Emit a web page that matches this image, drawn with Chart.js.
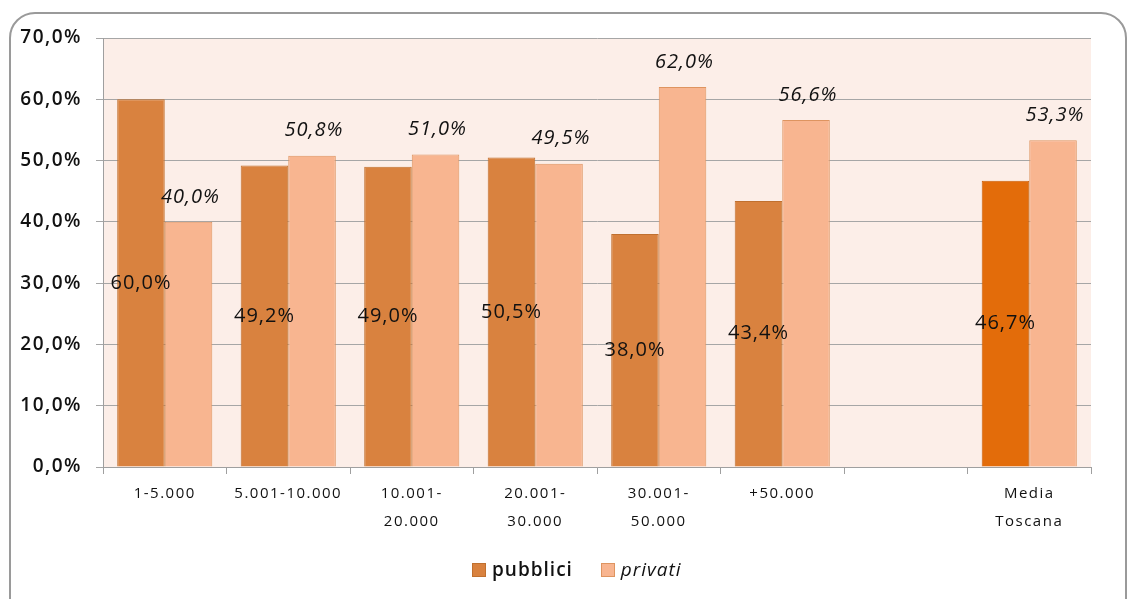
<!DOCTYPE html>
<html>
<head>
<meta charset="utf-8">
<script src="https://cdn.jsdelivr.net/npm/chart.js@4"></script>
<style>
  html, body { margin: 0; padding: 0; background: #fff; }
  #wrap { position: relative; width: 1132px; height: 599px; overflow: hidden; }
  #frame { position: absolute; left: 9px; top: 12px; width: 1118px; height: 640px;
           border: 2px solid #9a9a9a; border-radius: 26px; box-sizing: border-box; }
  canvas { position: absolute; left: 0; top: 0; }
  #legend { position: absolute; top: 556px; left: 472px; font-family: "Open Sans", sans-serif;
            font-size: 19px; letter-spacing: 1px; color: #111; white-space: nowrap; }
  #legend span.box { display: inline-block; width: 14px; height: 14px; vertical-align: -1px;
                     margin-right: 6px; box-sizing: border-box; }
  #legend .item { margin-right: 22px; }
</style>
</head>
<body>
<div id="wrap">
  <div id="frame"></div>
  <canvas id="myChart" width="1132" height="599"></canvas>
  <div id="legend">
    <span class="item"><span class="box" style="background:#D9823F;border:1px solid #C0702F"></span><b style="font-weight:600">pubblici</b></span>
    <span class="item"><span class="box" style="background:#F8B590;border:1px solid #DE9460"></span><i>privati</i></span>
  </div>
</div>
<script>
const categorie = [["1-5.000"], ["5.001-10.000"], ["10.001-", "20.000"], ["20.001-", "30.000"],
                   ["30.001-", "50.000"], ["+50.000"], [""], ["Media", "Toscana"]];
const pubblici = [60.0, 49.2, 49.0, 50.5, 38.0, 43.4, null, 46.7];
const privati = [40.0, 50.8, 51.0, 49.5, 62.0, 56.6, null, 53.3];
const yTicks = [0, 10, 20, 30, 40, 50, 60, 70];

const fmt = v => v.toFixed(1).replace(".", ",") + "%";

const plotBg = {
  id: "plotBg",
  beforeDraw(chart) {
    const { ctx, chartArea: a } = chart;
    ctx.save();
    ctx.fillStyle = "#FCEEE8";
    ctx.fillRect(a.left, a.top, a.right - a.left, a.bottom - a.top);
    ctx.restore();
    ctx.letterSpacing = "1.5px";
  },
  beforeDatasetsDraw(chart) {
    chart.ctx.letterSpacing = "0px";
  }
};

const valueLabels = {
  id: "valueLabels",
  afterDatasetsDraw(chart) {
    const ctx = chart.ctx;
    ctx.save();
    ctx.letterSpacing = "1px";
    ctx.fillStyle = "#111";
    ctx.textAlign = "center";
    ctx.textBaseline = "middle";
    chart.data.datasets.forEach((ds, i) => {
      const meta = chart.getDatasetMeta(i);
      meta.data.forEach((el, j) => {
        const v = ds.data[j];
        if (v == null) return;
        if (i === 0) {
          ctx.font = "20px 'Open Sans'";
          ctx.fillText(fmt(v), el.x, (el.y + el.base) / 2);
        } else {
          ctx.font = "italic 20px 'Open Sans'";
          ctx.fillText(fmt(v), el.x + 2, el.y - 25);
        }
      });
    });
    ctx.restore();
  }
};

new Chart(document.getElementById("myChart").getContext("2d"), {
  type: "bar",
  data: {
    labels: categorie,
    datasets: [{
      label: "pubblici",
      data: pubblici,
      backgroundColor: pubblici.map((v, i) => i === pubblici.length - 1 ? "#E36C0A" : "#D9823F"),
      borderColor: pubblici.map((v, i) => i === pubblici.length - 1 ? "#C95F08" : "#C0702F"),
      borderWidth: 1
    }, {
      label: "privati",
      data: privati,
      backgroundColor: "#F8B590",
      borderColor: "#DE9460",
      borderWidth: 1
    }]
  },
  options: {
    responsive: false,
    animation: false,
    categoryPercentage: 0.77,
    barPercentage: 1.0,
    layout: { padding: { top: 38, right: 41, left: 0, bottom: 0 } },
    plugins: { legend: { display: false }, tooltip: { enabled: false } },
    scales: {
      x: {
        grid: { offset: true, drawOnChartArea: false, drawTicks: true, tickLength: 7, color: "#9f9f9f" },
        border: { display: true, color: "#9f9f9f", width: 1 },
        ticks: { color: "#111", padding: 6, maxRotation: 0, autoSkip: false,
                 font: { family: "'Open Sans'", size: 15, lineHeight: 1.85 } },
        afterFit(s) { s.height = 132; }
      },
      y: {
        min: 0, max: 70,
        afterBuildTicks(s) { s.ticks = yTicks.map(v => ({ value: v })); },
        grid: { color: "#a6a6a6", drawTicks: true, tickLength: 7 },
        border: { display: true, color: "#9f9f9f", width: 1 },
        ticks: { color: "#111", padding: 14, callback: v => fmt(v),
                 font: { family: "'Open Sans'", size: 19, weight: "600" } },
        afterFit(s) { s.width = 103; }
      }
    }
  },
  plugins: [plotBg, valueLabels]
});
</script>
</body>
</html>
